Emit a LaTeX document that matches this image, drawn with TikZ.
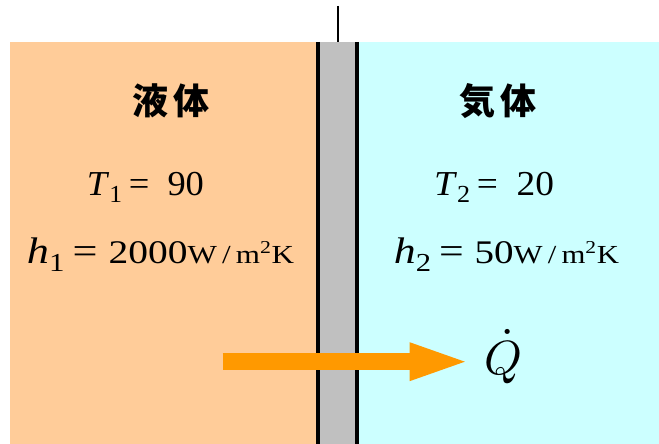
\documentclass[tikz,border=0pt]{standalone}
\usepackage{graphicx}
\usepackage{fontspec}
\setmainfont{Liberation Serif}
\newfontfamily\jpfont{Noto Sans CJK JP}
\usetikzlibrary{arrows.meta,positioning}
\definecolor{liquid}{RGB}{255,204,153}
\definecolor{gas}{RGB}{204,255,255}
\definecolor{wallgray}{RGB}{192,192,192}
\definecolor{flowcolor}{RGB}{255,153,0}
\tikzset{
  wallline/.style={line width=3.5pt},
  label/.style={inner sep=0pt, anchor=base},
  phase/.style={inner sep=0pt, font=\jpfont\bfseries\fontsize{36}{40}\selectfont},
  heatflow/.style={line width=16.7pt, draw=flowcolor,
    -{Triangle[length=62pt,width=33pt]}}
}
% stretched text line: width, text
\newcommand{\wideline}[2]{\resizebox{#1}{\height}{#2}}
\newcommand{\tvalue}[2]{\fontsize{35}{40}\selectfont\textit{T}\textsubscript{#1}\,= \ #2}
\newcommand{\hvalue}[2]{\fontsize{37}{42}\selectfont\textit{h}\textsubscript{#1}\,=
  {\fontsize{33}{38}\selectfont#2}%
  {\fontsize{26}{30}\selectfont W\,/\,m\textsuperscript{2}K}}

\begin{document}
\begin{tikzpicture}[x=1pt,y=-1pt]
  \useasboundingbox (0,0) rectangle (659,444);
  % the two media and the wall
  \fill[liquid] (10,42) rectangle (318,444);
  \fill[gas] (357,42) rectangle (659,444);
  \fill[wallgray] (318,42) rectangle (357,444);
  \foreach \x in {318,357}
    \draw[wallline] (\x,42) -- (\x,444);
  \draw[line width=2pt] (337.7,6) -- (337.7,42);

  % phase names
  \node[phase] (liq) at (171,101) {液\,体};
  \node[phase] (gasname) at (498,101) {気\,体};

  % conditions
  \node[label] (t1) at (145.5,195) {\wideline{117pt}{\tvalue{1}{90}}};
  \node[label] (h1) at (160.5,263) {\wideline{267pt}{\hvalue{1}{2000}}};
  \node[label] (t2) at (494,195) {\wideline{120pt}{\tvalue{2}{20}}};
  \node[label] (h2) at (506.5,263) {\wideline{225pt}{\hvalue{2}{50}}};

  % heat flow
  \node[inner sep=0pt, anchor=base west] (qdot) at (484,374)
    {\scalebox{4.8}{$\dot{Q}$}};
  \coordinate (flowstart) at (222.7,361.7);
  \draw[heatflow, shorten >=12.3pt] (flowstart) -- (flowstart -| qdot.west);
\end{tikzpicture}
\end{document}
